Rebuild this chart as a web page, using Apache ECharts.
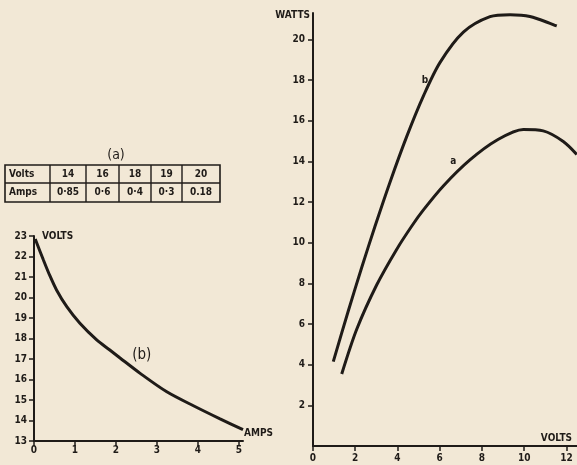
<!DOCTYPE html>
<html>
<head>
<meta charset="utf-8">
<script src="https://cdn.jsdelivr.net/npm/echarts@6/dist/echarts.min.js"></script>
<style>html,body{margin:0;padding:0;background:#f2e8d6}#c{width:577px;height:465px}</style>
</head>
<body>
<div id="c"></div>
<script>
// ---- Data ----
// (a) table
var tableVolts = [14, 16, 18, 19, 20];
var tableAmps = ['0·85', '0·6', '0·4', '0·3', '0.18'];
// (b) left chart: Volts vs Amps
var curveB_left = [[0.03,22.85],[0.23,21.83],[0.39,21.05],[0.55,20.37],[0.8,19.55],[1.12,18.74],[1.53,17.93],[1.85,17.44],[2.1,17.05],[2.59,16.3],[3.24,15.4],[3.89,14.72],[4.54,14.08],[5.1,13.55]];
var leftXTicks = [0, 1, 2, 3, 4, 5];
var leftYTicks = [13, 14, 15, 16, 17, 18, 19, 20, 21, 22, 23];
// right chart: Watts vs Volts
var curveB_right = [[0.96,4.15],[1.67,6.64],[2.31,8.79],[2.94,10.82],[3.65,12.99],[4.44,15.23],[5.22,17.2],[6.01,18.86],[7.12,20.36],[8.38,21.12],[9.33,21.22],[10.27,21.13],[11.54,20.66]];
var curveA_right = [[1.36,3.54],[2.07,5.74],[3.02,7.93],[3.96,9.67],[4.67,10.81],[5.22,11.6],[6.17,12.79],[7.43,14.07],[8.7,15.04],[9.96,15.57],[10.9,15.5],[11.85,14.98],[12.49,14.34]];
var rightXTicks = [0, 2, 4, 6, 8, 10, 12];
var rightYTicks = [2, 4, 6, 8, 10, 12, 14, 16, 18, 20];

var INK = '#1f1b18';
var FONT = '"DejaVu Sans Condensed","DejaVu Sans",sans-serif';
var lab = {color: INK, fontFamily: FONT, fontWeight: 'bold', fontSize: 10};

function axisCommon(ticks, margin, extra) {
  var o = {
    type: 'value',
    splitLine: {show: false},
    axisLine: {show: true, onZero: false, lineStyle: {color: INK, width: 2}},
    axisTick: {show: true, length: 5, lineStyle: {color: INK, width: 1.5}, customValues: ticks},
    axisLabel: Object.assign({margin: margin, customValues: ticks}, lab),
    nameTextStyle: Object.assign({}, lab)
  };
  return Object.assign(o, extra);
}

// table graphics
var colX = [5, 50, 86, 119, 151, 182, 220];
var rowY = [165, 183, 202];
var g = [];
g.push({type: 'rect', shape: {x: colX[0], y: rowY[0], width: colX[6]-colX[0], height: rowY[2]-rowY[0]},
  style: {fill: 'none', stroke: INK, lineWidth: 1.6}});
g.push({type: 'line', shape: {x1: colX[0], y1: rowY[1], x2: colX[6], y2: rowY[1]}, style: {stroke: INK, lineWidth: 1.4}});
for (var i = 1; i < colX.length - 1; i++) {
  g.push({type: 'line', shape: {x1: colX[i], y1: rowY[0], x2: colX[i], y2: rowY[2]}, style: {stroke: INK, lineWidth: 1.4}});
}
g.push({type: 'text', x: 9, y: (rowY[0]+rowY[1])/2, style: {text: 'Volts', fill: INK, font: 'bold 10px ' + FONT, verticalAlign: 'middle'}});
g.push({type: 'text', x: 9, y: (rowY[1]+rowY[2])/2, style: {text: 'Amps', fill: INK, font: 'bold 10px ' + FONT, verticalAlign: 'middle'}});
for (var j = 0; j < tableVolts.length; j++) {
  var cx = (colX[j+1] + colX[j+2]) / 2;
  g.push({type: 'text', x: cx, y: (rowY[0]+rowY[1])/2, style: {text: String(tableVolts[j]), fill: INK, font: 'bold 10px ' + FONT, align: 'center', verticalAlign: 'middle'}});
  g.push({type: 'text', x: cx, y: (rowY[1]+rowY[2])/2, style: {text: tableAmps[j], fill: INK, font: 'bold 10px ' + FONT, align: 'center', verticalAlign: 'middle'}});
}
g.push({type: 'text', x: 116, y: 155, style: {text: '(a)', fill: INK, font: '14px ' + FONT, align: 'center', verticalAlign: 'middle'}});

function curveLabel(text, coord, size) {
  return {
    symbol: 'circle', symbolSize: 1, itemStyle: {color: 'rgba(0,0,0,0)'},
    label: {show: true, position: 'inside', formatter: text, color: INK, fontFamily: FONT, fontSize: size, fontWeight: size < 12 ? 'bold' : 'normal'},
    data: [{coord: coord}]
  };
}

var chart = echarts.init(document.getElementById('c'), null, {renderer: 'canvas'});
chart.setOption({
  backgroundColor: '#f2e8d6',
  animation: false,
  grid: [
    {left: 34, top: 236, width: 209, bottom: 24},
    {left: 313, top: 13, right: 0, bottom: 19}
  ],
  xAxis: [
    axisCommon(leftXTicks, 4, {gridIndex: 0, min: 0, max: 5.1, name: 'AMPS', nameLocation: 'end', nameGap: 1,
      nameTextStyle: Object.assign({}, lab, {align: 'left', verticalAlign: 'bottom', padding: [0, 0, 3, 0]})}),
    axisCommon(rightXTicks, 7, {gridIndex: 1, min: 0, max: 12.5, name: 'VOLTS', nameLocation: 'end', nameGap: -5,
      nameTextStyle: Object.assign({}, lab, {align: 'right', verticalAlign: 'bottom', padding: [0, 0, 3, 0]})})
  ],
  yAxis: [
    axisCommon(leftYTicks, 7, {gridIndex: 0, min: 13, max: 23, name: 'VOLTS', nameLocation: 'end', nameGap: 0,
      nameTextStyle: Object.assign({}, lab, {align: 'left', verticalAlign: 'middle', padding: [0, 0, 0, 8]})}),
    axisCommon(rightYTicks, 8, {gridIndex: 1, min: 0, max: 21.3, name: 'WATTS', nameLocation: 'end', nameGap: -2,
      nameTextStyle: Object.assign({}, lab, {align: 'right', verticalAlign: 'middle', padding: [0, 3, 0, 0]})})
  ],
  series: [
    {type: 'line', xAxisIndex: 0, yAxisIndex: 0, data: curveB_left, smooth: 0.3, showSymbol: false,
      lineStyle: {color: INK, width: 3}, markPoint: curveLabel('(b)', [2.63, 17.2], 15)},
    {type: 'line', xAxisIndex: 1, yAxisIndex: 1, data: curveB_right, smooth: 0.3, showSymbol: false,
      lineStyle: {color: INK, width: 3}, markPoint: curveLabel('b', [5.3, 18.0], 10)},
    {type: 'line', xAxisIndex: 1, yAxisIndex: 1, data: curveA_right, smooth: 0.3, showSymbol: false,
      lineStyle: {color: INK, width: 3}, markPoint: curveLabel('a', [6.64, 13.98], 10)}
  ],
  graphic: g
});
</script>
</body>
</html>
